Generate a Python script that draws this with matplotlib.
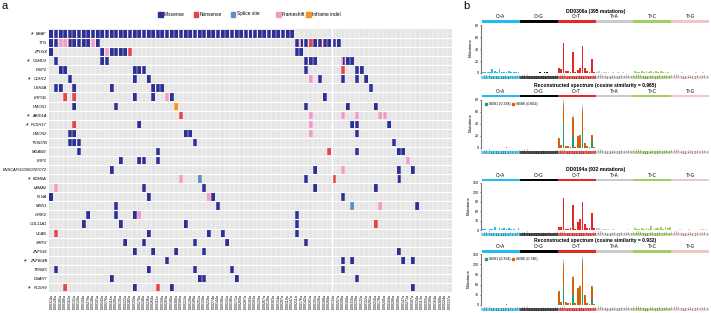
import matplotlib
matplotlib.use("Agg")
import matplotlib.pyplot as plt
from matplotlib.patches import Rectangle
import numpy as np

plt.rcParams['font.family'] = ['Liberation Sans', 'DejaVu Sans']

# ---------------- panel a data ----------------
GENES = ["BRAF", "TTN", "ZFHX4", "CSMD3", "FSIP2", "CDH12", "USH2A", "LRP1B",
         "HMCN1", "ARID1A", "PCDH17", "HMCN2", "THSD7B", "MGAM2", "LRP2",
         "ENSCAFG00000007072", "KDM6A", "LAMA2", "FLNA", "MDN1", "GRIK2",
         "COL11A1", "VCAN", "XIRP2", "ZNF536", "ZNF804B", "TENM3", "DNAH7", "PCDH9"]
STARRED = ["BRAF", "CSMD3", "CDH12", "ARID1A", "PCDH17", "KDM6A", "ZNF804B", "PCDH9"]
N_SAMPLES = 87
SAMPLES = ["DD%04da" % n for n in
           [314, 126, 185, 306, 162, 131, 120, 194, 279, 148, 101, 243, 276, 116, 205,
            135, 222, 282, 159, 170, 240, 236, 264, 111, 150, 293, 180, 300, 166, 213,
            128, 189, 251, 158, 218, 274, 144, 106, 232, 196, 171, 260, 287, 183, 203,
            229, 267, 139, 303, 154, 297, 119, 247, 211, 176, 142, 261, 191, 226, 108,
            284, 133, 257, 200, 168, 310, 239, 122, 152, 281, 216, 178, 245, 104, 290,
            209, 147, 271, 187, 234, 113, 255, 199, 164, 308, 224, 137]]

MISSENSE = {
    "BRAF": list(range(0, 53)),
    "TTN": [0, 1, 5, 6, 7, 8, 10, 53, 55, 57, 58, 60, 61, 62],
    "ZFHX4": [0, 11, 13, 14, 15, 16, 53, 54],
    "CSMD3": [1, 11, 12, 55, 56, 57, 64, 65],
    "FSIP2": [2, 3, 18, 19, 20, 55, 66, 67],
    "CDH12": [4, 18, 21, 58, 63, 66, 68],
    "USH2A": [1, 2, 5, 13, 22, 23, 24, 69],
    "LRP1B": [18, 22, 26, 59],
    "HMCN1": [5, 14, 55, 64, 70],
    "PCDH17": [19, 65, 66, 73],
    "HMCN2": [4, 5, 29, 30, 66],
    "THSD7B": [4, 5, 6, 31, 74],
    "MGAM2": [6, 23, 66, 75, 76],
    "LRP2": [15, 19, 20, 23],
    "ENSCAFG00000007072": [13, 57, 75, 78],
    "KDM6A": [55],
    "LAMA2": [20, 33, 57, 70],
    "FLNA": [0, 21, 35, 63],
    "MDN1": [14, 36, 79],
    "GRIK2": [8, 14, 18, 53],
    "COL11A1": [7, 15, 29, 53],
    "VCAN": [21, 34, 37, 53],
    "XIRP2": [16, 20, 31, 38, 55],
    "ZNF536": [18, 22, 27, 33, 75],
    "ZNF804B": [25, 63, 65, 76, 78],
    "TENM3": [1, 21, 31, 39, 63],
    "DNAH7": [13, 32, 33, 40, 66],
    "PCDH9": [18, 26, 78],
}
NONSENSE = {"TTN": [56], "ZFHX4": [17], "FSIP2": [63], "LRP1B": [3, 5], "ARID1A": [28],
            "PCDH17": [5], "MGAM2": [60], "KDM6A": [61], "COL11A1": [70], "VCAN": [1],
            "PCDH9": [3, 23]}
SPLICE = {"KDM6A": [32], "MDN1": [65]}
FRAMESHIFT = {"TTN": [2, 3, 9], "ZFHX4": [12], "CDH12": [56], "LRP1B": [25],
              "ARID1A": [56, 63, 66, 71, 72], "PCDH17": [56], "HMCN2": [56], "LRP2": [77],
              "ENSCAFG00000007072": [63], "KDM6A": [28], "LAMA2": [1], "FLNA": [34],
              "MDN1": [71], "GRIK2": [19]}
INFRAME = {"HMCN1": [27]}
# cells hit twice: (gene, sample, first type, second type)
MULTI_HIT = [("TTN", 4, "Nonsense", "Missense"), ("TTN", 54, "Frameshift", "Missense"),
             ("TTN", 59, "Nonsense", "Missense"), ("CSMD3", 63, "Frameshift", "Missense"),
             ("KDM6A", 75, "Frameshift", "Missense")]

MUT_TYPES = ["Missense", "Nonsense", "Splice site", "Frameshift", "Inframe indel"]
MUT_COLORS = {"Missense": "#2c2f94", "Nonsense": "#e5444b", "Splice site": "#5b8fc4",
              "Frameshift": "#f29bc9", "Inframe indel": "#f7931e"}

# ---------------- panel b data ----------------
SUBS = ["C>A", "C>G", "C>T", "T>A", "T>C", "T>G"]
SUB_COLORS = ["#1ebff0", "#050708", "#e62725", "#cbcacb", "#a1cf64", "#edc8c5"]

DD0306A = [2, 1, 1, 1, 6, 4, 1, 7, 2, 2, 1, 3, 1, 1, 1, 1,
           0, 0, 0, 0, 0, 0, 0, 0, 1, 0, 1, 1, 0, 0, 0, 0,
           9, 6, 51, 3, 3, 2, 36, 2, 5, 8, 45, 9, 3, 2, 23, 2,
           1, 3, 1, 1, 1, 1, 0, 1, 0, 1, 0, 1, 0, 0, 0, 0,
           3, 1, 2, 3, 1, 3, 1, 3, 1, 3, 1, 3, 1, 1, 1, 0,
           0, 0, 0, 0, 1, 0, 0, 0, 0, 0, 1, 0, 0, 1, 0, 0]
RECON1_SBS1 = [0] * 32 + [1, 0, 42, 0, 1, 0, 22, 0, 0, 1, 25, 0, 0, 0, 11, 0] + [0] * 48
RECON1_SBS6 = [0, 0, 0, 0, 0, 0, 0, 0, 0, 0, 1, 0, 0, 0, 0, 0,
               0, 0, 0, 0, 0, 0, 0, 0, 0, 0, 0, 0, 0, 0, 0, 0,
               15, 5, 33, 3, 2, 2, 30, 2, 20, 21, 42, 9, 3, 2, 10, 2,
               0, 0, 0, 0, 0, 0, 0, 0, 0, 0, 0, 0, 0, 0, 0, 0,
               0, 0, 0, 0, 0, 0, 0, 0, 0, 0, 0, 0, 0, 0, 0, 0,
               0, 0, 0, 0, 0, 0, 0, 0, 0, 0, 0, 0, 0, 0, 0, 0]
DD0194A = [3, 3, 1, 3, 4, 10, 1, 6, 2, 5, 2, 7, 3, 3, 1, 5,
           0, 0, 0, 0, 0, 1, 0, 0, 0, 1, 0, 1, 0, 0, 0, 0,
           10, 10, 100, 4, 4, 6, 78, 3, 25, 36, 88, 20, 6, 5, 55, 5,
           6, 6, 2, 3, 2, 2, 1, 2, 1, 1, 1, 1, 1, 2, 1, 1,
           7, 2, 4, 6, 3, 5, 4, 12, 3, 7, 5, 8, 4, 8, 5, 11,
           1, 1, 1, 2, 1, 1, 1, 3, 1, 1, 1, 1, 2, 4, 3, 1]
RECON2_SBS1 = [0] * 32 + [2, 0, 55, 0, 1, 0, 30, 0, 0, 1, 35, 0, 0, 0, 16, 0] + [0] * 48
RECON2_SBS6 = [0, 0, 0, 0, 0, 0, 0, 0, 0, 0, 3, 0, 0, 0, 0, 0,
               0, 0, 0, 0, 0, 0, 0, 0, 0, 0, 0, 0, 0, 0, 0, 0,
               40, 10, 70, 8, 5, 5, 52, 5, 50, 55, 100, 30, 5, 4, 40, 4,
               0, 0, 0, 0, 0, 0, 0, 0, 0, 0, 0, 0, 0, 0, 0, 0,
               0, 0, 0, 0, 0, 0, 0, 0, 0, 0, 0, 0, 0, 0, 0, 0,
               0, 0, 0, 0, 0, 0, 0, 0, 0, 0, 0, 0, 0, 0, 0, 0]


def contexts():
    labels = []
    for sub in SUBS:
        for five in "ACGT":
            for three in "ACGT":
                labels.append(five + sub[0] + three)
    return labels


def draw_oncoprint(fig):
    ax = fig.add_axes([49 / 711, 21 / 313, 403 / 711, 263 / 313])
    ax.set_facecolor("#e5e5e5")
    ax.set_xlim(0, N_SAMPLES)
    ax.set_ylim(len(GENES), 0)
    for x in range(1, N_SAMPLES):
        ax.axvline(x, color="white", lw=0.35)
    for y in range(1, len(GENES)):
        ax.axhline(y, color="white", lw=0.8)
    ax.axvline(61, color="white", lw=1.0)

    tables = {"Missense": MISSENSE, "Nonsense": NONSENSE, "Splice site": SPLICE,
              "Frameshift": FRAMESHIFT, "Inframe indel": INFRAME}
    w, h = 0.86, 0.88
    for mtype, table in tables.items():
        for gene, cols in table.items():
            r = GENES.index(gene)
            for c in cols:
                ax.add_patch(Rectangle((c + (1 - w) / 2, r + (1 - h) / 2), w, h,
                                       color=MUT_COLORS[mtype], lw=0))
    for gene, c, t1, t2 in MULTI_HIT:
        r = GENES.index(gene)
        ax.add_patch(Rectangle((c + (1 - w) / 2, r + (1 - h) / 2), w, h,
                               color=MUT_COLORS[t2], lw=0))
        ax.add_patch(Rectangle((c + (1 - w) / 2, r + (1 - h) / 2), w * 0.4, h,
                               color=MUT_COLORS[t1], lw=0))

    ax.set_yticks(np.arange(len(GENES)) + 0.5)
    ax.set_yticklabels(GENES, fontsize=2.9, style="italic")
    ax.set_xticks(np.arange(N_SAMPLES) + 0.5)
    ax.set_xticklabels(SAMPLES, fontsize=2.6, rotation=90)
    ax.tick_params(length=0, pad=1.5)
    for s in ax.spines.values():
        s.set_visible(False)

    # asterisks for starred genes
    fig.canvas.draw()
    rend = fig.canvas.get_renderer()
    inv = fig.transFigure.inverted()
    for lab, g in zip(ax.get_yticklabels(), GENES):
        if g in STARRED:
            bb = lab.get_window_extent(rend)
            x0, y0 = inv.transform((bb.x0 - 3, (bb.y0 + bb.y1) / 2 - 1))
            fig.text(x0, y0, "*", fontsize=5, ha="right", va="center")

    # legend
    lx = [158, 194, 231, 276, 306]
    for x, mtype in zip(lx, MUT_TYPES):
        fig.patches.append(Rectangle((x / 711, 1 - 16.5 / 313), 4.5 / 711, 5 / 313,
                                     transform=fig.transFigure, color=MUT_COLORS[mtype]))
        fig.text((x + 6) / 711, 1 - 14 / 313, mtype, fontsize=3.5, va="center")
    fig.text(2 / 711, 1 - 6 / 313, "a", fontsize=8, va="center")


def draw_spectrum(fig, top, bottom, title, parts, colors, ticks, ylim, legend=None):
    ax = fig.add_axes([481 / 711, 1 - bottom / 313, 229 / 711, (bottom - top) / 313])
    x = np.arange(96)
    base = np.zeros(96)
    sub_cols = np.repeat(SUB_COLORS, 16)
    for vals, col in zip(parts, colors):
        vals = np.array(vals, dtype=float)
        c = sub_cols if col is None else col
        ax.bar(x, vals, bottom=base, width=0.75, color=c, lw=0)
        base = base + vals
    if len(parts) > 1:
        ax.errorbar(x[base > 0], base[base > 0], yerr=base[base > 0] * 0.08, fmt="none",
                    ecolor="#aaaaaa", elinewidth=0.4, capsize=0)
    ax.set_xlim(-0.8, 95.8)
    ax.set_ylim(0, ylim)
    ax.set_yticks(ticks)
    ax.set_yticklabels([str(t) for t in ticks], fontsize=2.6)
    ax.tick_params(axis="y", length=1, width=0.4, pad=0.8)
    ax.set_ylabel("Mutations", fontsize=3.2, labelpad=1.5)
    ax.set_xticks(x)
    ax.set_xticklabels(contexts(), fontsize=1.4, rotation=90)
    ax.tick_params(axis="x", length=0, pad=0.5)
    for s in ["top", "right", "bottom"]:
        ax.spines[s].set_visible(False)
    ax.spines["left"].set_color("#777777")
    ax.spines["left"].set_linewidth(0.8)
    ax.spines["left"].set_bounds(0, ticks[-1])
    tr = ax.get_xaxis_transform()
    for i, (sub, col) in enumerate(zip(SUBS, SUB_COLORS)):
        ax.add_patch(Rectangle((i * 16 - 0.5, 1.0), 16, 0.05, transform=tr, color=col,
                               clip_on=False, lw=0))
        ax.text(i * 16 + 7.5, 1.12, sub, transform=tr, fontsize=3.3, ha="center",
                va="center")
        ax.add_patch(Rectangle((i * 16 - 0.5, -0.12), 16, 0.06, transform=tr, color=col,
                               clip_on=False, lw=0, alpha=0.7))
    ax.text(0.5, 1.23, title, transform=ax.transAxes, fontsize=3.6, ha="center",
            va="center", fontweight="bold")
    if legend:
        for j, (lab, col) in enumerate(legend):
            ax.plot([0.02 + j * 0.12], [0.88], "s", ms=1.6, color=col, transform=ax.transAxes)
            ax.text(0.035 + j * 0.12, 0.88, lab, fontsize=2.6, transform=ax.transAxes,
                    va="center")
    return ax


def main():
    fig = plt.figure(figsize=(7.11, 3.13), dpi=100)
    draw_oncoprint(fig)
    teal, orange = "#1b9e77", "#d95f02"
    draw_spectrum(fig, 23, 73, "DD0306a (395 mutations)", [DD0306A], [None],
                  [0, 20, 40, 60, 80], 84)
    draw_spectrum(fig, 97.5, 148, "Reconstructed spectrum (cosine similarity = 0.965)",
                  [RECON1_SBS1, RECON1_SBS6], [teal, orange], [0, 20, 40, 60, 80], 84,
                  legend=[("SBS1 (0.338)", teal), ("SBS6 (0.662)", orange)])
    draw_spectrum(fig, 181, 230, "DD0194a (932 mutations)", [DD0194A], [None],
                  [0, 30, 60, 90, 120, 150], 155)
    draw_spectrum(fig, 252.5, 305, "Reconstructed spectrum (cosine similarity = 0.932)",
                  [RECON2_SBS1, RECON2_SBS6], [teal, orange], [0, 30, 60, 90, 120, 150], 155,
                  legend=[("SBS1 (0.254)", teal), ("SBS6 (0.746)", orange)])
    fig.text(463 / 711, 1 - 6 / 313, "b", fontsize=8, va="center")
    fig.savefig("out.png", dpi=100)


if __name__ == "__main__":
    main()
